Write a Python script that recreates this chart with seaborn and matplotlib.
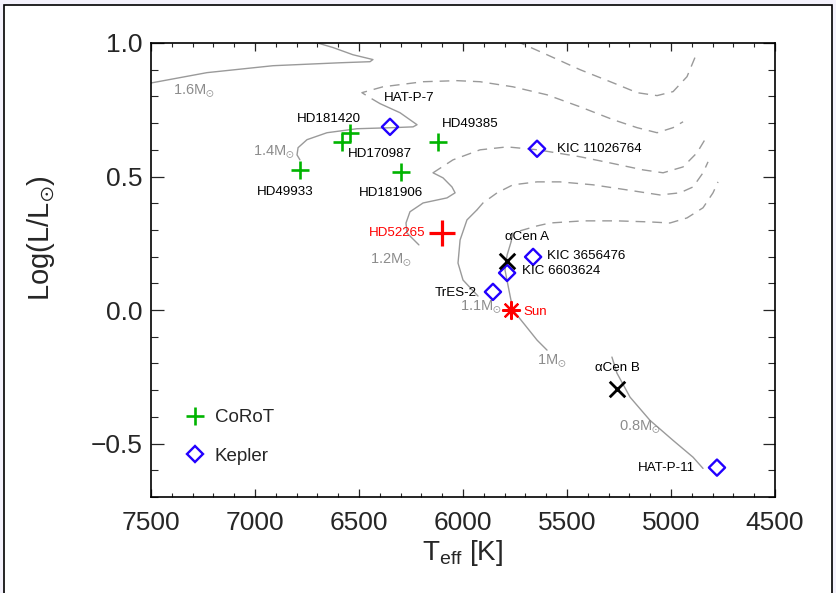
import matplotlib
matplotlib.use("Agg")
import matplotlib.pyplot as plt
import seaborn as sns
import pandas as pd
from matplotlib.patches import Rectangle
from matplotlib.lines import Line2D
from matplotlib.ticker import MultipleLocator

# ------------------------------------------------------------------ data
corot_names = ["HD49933", "HD181420", "HD170987", "HD181906", "HD49385"]
corot_teff = [6784, 6543, 6582, 6298, 6120]
corot_logl = [0.525, 0.664, 0.630, 0.517, 0.630]

hd52265_names = ["HD52265"]
hd52265_teff = [6101]
hd52265_logl = [0.289]

kepler_names = ["HAT-P-7", "KIC 11026764", "KIC 3656476", "KIC 6603624", "TrES-2", "HAT-P-11"]
kepler_teff = [6351, 5644, 5663, 5788, 5856, 4779]
kepler_logl = [0.686, 0.604, 0.199, 0.139, 0.068, -0.590]

acen_names = ["αCen A", "αCen B"]
acen_teff = [5788, 5260]
acen_logl = [0.184, -0.297]

sun_names = ["Sun"]
sun_teff = [5770]
sun_logl = [0.0]

# evolutionary tracks (solid = main sequence, dashed = post main sequence)
t16_solid_teff = [7550, 7495, 7231, 6913, 6591, 6447, 6433, 6529, 6625, 6721, 6760]
t16_solid_logl = [0.840, 0.851, 0.889, 0.915, 0.926, 0.930, 0.938, 0.956, 0.983, 1.005, 1.015]
t16_dash_teff = [5745, 5726, 5596, 5437, 5279, 5163, 5067, 4990, 4923, 4875]
t16_dash_logl = [1.010, 1.001, 0.956, 0.900, 0.851, 0.814, 0.803, 0.818, 0.874, 0.964]

t14_solid_teff = [6784, 6798, 6793, 6750, 6654, 6510, 6337, 6240, 6221, 6303, 6399]
t14_solid_logl = [0.5625, 0.581, 0.608, 0.638, 0.664, 0.679, 0.683, 0.686, 0.694, 0.739, 0.773]
t14_dash_teff = [6399, 6447, 6486, 6385, 6192, 6029, 5918, 5760, 5596, 5437, 5279, 5163, 5067, 4990, 4942]
t14_dash_logl = [0.773, 0.795, 0.814, 0.836, 0.855, 0.859, 0.855, 0.836, 0.806, 0.761, 0.713, 0.683, 0.664, 0.683, 0.705]

t12_solid_teff = [6212, 6270, 6274, 6255, 6192, 6077, 6038, 6053, 6096, 6144]
t12_solid_logl = [0.244, 0.289, 0.326, 0.368, 0.401, 0.420, 0.439, 0.461, 0.495, 0.514]
t12_dash_teff = [6144, 6048, 5918, 5788, 5640, 5437, 5293, 5135, 5038, 4942, 4875, 4837]
t12_dash_logl = [0.514, 0.5625, 0.600, 0.611, 0.600, 0.574, 0.551, 0.525, 0.514, 0.536, 0.589, 0.638]

t11_solid_teff = [5928, 6000, 6024, 6014, 5981, 5933]
t11_solid_logl = [0.0525, 0.1125, 0.176, 0.2625, 0.3375, 0.375]
t11_dash_teff = [5933, 5904, 5836, 5760, 5644, 5534, 5375, 5212, 5053, 4957, 4894, 4846, 4822]
t11_dash_logl = [0.375, 0.401, 0.439, 0.469, 0.480, 0.480, 0.469, 0.450, 0.431, 0.439, 0.461, 0.514, 0.555]

t10_solid_teff = [5596, 5644, 5702, 5760, 5784, 5798, 5788, 5769]
t10_solid_logl = [-0.150, -0.1125, -0.056, 0.0, 0.094, 0.150, 0.206, 0.255]
t10_dash_teff = [5769, 5760, 5644, 5582, 5423, 5260, 5101, 5005, 4923, 4846, 4798, 4774]
t10_dash_logl = [0.255, 0.289, 0.315, 0.326, 0.334, 0.334, 0.330, 0.326, 0.345, 0.383, 0.439, 0.480]

t08_solid_teff = [4846, 4894, 4990, 5101, 5197, 5260, 5284]
t08_solid_logl = [-0.593, -0.551, -0.488, -0.413, -0.326, -0.236, -0.176]

mass_labels = ["1.6M$_{\\odot}$", "1.4M$_{\\odot}$", "1.2M$_{\\odot}$",
               "1.1M$_{\\odot}$", "1M$_{\\odot}$", "0.8M$_{\\odot}$"]
mass_label_teff = [7394, 7010, 6447, 6014, 5644, 5250]
mass_label_logl = [0.8175, 0.5925, 0.1875, 0.011, -0.191, -0.439]

# ------------------------------------------------------------------ style
sns.set_style("ticks")
plt.rcParams["font.family"] = ["Liberation Sans", "DejaVu Sans"]
plt.rcParams["mathtext.fontset"] = "custom"
plt.rcParams["mathtext.rm"] = "Liberation Sans"
plt.rcParams["mathtext.it"] = "Liberation Sans:italic"
plt.rcParams["mathtext.bf"] = "Liberation Sans:bold"
plt.rcParams["mathtext.fallback"] = "stixsans"

GREEN = "#00b400"
BLUE = "#2200ff"
RED = "#ff0000"
TRACK = "#9a9a9a"
MLABEL = "#8c8c8c"

W, H = 836, 593
fig = plt.figure(figsize=(W / 100, H / 100), dpi=100, facecolor="#f4f2fc")
fig.patches.append(Rectangle((4 / W, -0.05), (832 - 4) / W, 1 - 5 / H + 0.05,
                             transform=fig.transFigure, facecolor="white",
                             edgecolor="black", lw=1.2, zorder=-10))
ax = fig.add_axes([151 / W, 1 - 497 / H, (775 - 151) / W, (497 - 43) / H])

# ------------------------------------------------------------------ tracks
solid_tracks = [(t16_solid_teff, t16_solid_logl), (t14_solid_teff, t14_solid_logl),
                (t12_solid_teff, t12_solid_logl), (t11_solid_teff, t11_solid_logl),
                (t10_solid_teff, t10_solid_logl), (t08_solid_teff, t08_solid_logl)]
dash_tracks = [(t16_dash_teff, t16_dash_logl), (t14_dash_teff, t14_dash_logl),
               (t12_dash_teff, t12_dash_logl), (t11_dash_teff, t11_dash_logl),
               (t10_dash_teff, t10_dash_logl)]
for tx, ty in solid_tracks:
    sns.lineplot(x=tx, y=ty, sort=False, estimator=None, color=TRACK, lw=1.0, ax=ax, zorder=2)
for tx, ty in dash_tracks:
    sns.lineplot(x=tx, y=ty, sort=False, estimator=None, color=TRACK, lw=1.0,
                 linestyle=(0, (7, 5)), ax=ax, zorder=2)

for lab, tx, ty in zip(mass_labels, mass_label_teff, mass_label_logl):
    ax.text(tx, ty, lab, color=MLABEL, fontsize=10.5, ha="left", va="center", zorder=3)

# ------------------------------------------------------------------ stars
sns.scatterplot(x=corot_teff, y=corot_logl, marker="+", s=170, color=GREEN,
                linewidth=1.9, ax=ax, zorder=5)
sns.scatterplot(x=hd52265_teff, y=hd52265_logl, marker="+", s=330, color=RED,
                linewidth=2.3, ax=ax, zorder=5)
sns.scatterplot(x=kepler_teff, y=kepler_logl, marker="D", s=68, facecolor="none",
                edgecolor=BLUE, linewidth=1.7, ax=ax, zorder=5)
sns.scatterplot(x=acen_teff, y=acen_logl, marker="x", s=125, color="black",
                linewidth=2.0, ax=ax, zorder=5)
sns.scatterplot(x=sun_teff, y=sun_logl, marker=(8, 2, 0), s=150, color=RED,
                linewidth=1.6, ax=ax, zorder=5)

# star labels: offsets in pixels (dx, dy), alignment
label_offsets = {
    "HD49933": (-15, -22, "center"), "HD181420": (-21, 14, "center"),
    "HD170987": (38, -12, "center"), "HD181906": (-10, -21, "center"),
    "HD49385": (32, 18, "center"), "HD52265": (-16, 0, "right"),
    "HAT-P-7": (19, 29, "center"), "KIC 11026764": (20, 0, "left"),
    "KIC 3656476": (14, 1, "left"), "KIC 6603624": (15, 2, "left"),
    "TrES-2": (-16, -1, "right"), "HAT-P-11": (-22, 0, "right"),
    "αCen A": (20, 24, "center"), "αCen B": (1, 21, "center"),
    "Sun": (13, -2, "left"),
}
groups = [(corot_names, corot_teff, corot_logl, "black"),
          (hd52265_names, hd52265_teff, hd52265_logl, RED),
          (kepler_names, kepler_teff, kepler_logl, "black"),
          (acen_names, acen_teff, acen_logl, "black"),
          (sun_names, sun_teff, sun_logl, RED)]
for names, tx, ty, col in groups:
    for n, x, y in zip(names, tx, ty):
        dx, dy, ha = label_offsets[n]
        ax.annotate(n, (x, y), xytext=(dx, dy), textcoords="offset pixels",
                    ha=ha, va="center", fontsize=9.6, color=col, zorder=6)

# ------------------------------------------------------------------ axes
ax.set_xlim(7500, 4500)
ax.set_ylim(-0.7, 1.0)
ax.xaxis.set_major_locator(MultipleLocator(500))
ax.xaxis.set_minor_locator(MultipleLocator(100))
ax.yaxis.set_major_locator(MultipleLocator(0.5))
ax.yaxis.set_minor_locator(MultipleLocator(0.1))
ax.set_xticks([7500, 7000, 6500, 6000, 5500, 5000, 4500])
ax.set_xticklabels(["7500", "7000", "6500", "6000", "5500", "5000", "4500"])
ax.set_yticks([-0.5, 0.0, 0.5, 1.0])
ax.set_yticklabels(["\u22120.5", "0.0", "0.5", "1.0"])
for s in ax.spines.values():
    s.set_visible(True)
    s.set_linewidth(1.2)
    s.set_color("black")
ax.tick_params(axis="x", which="major", direction="in", top=True, bottom=True,
               length=5.5, width=0.9, labelsize=19, pad=10)
ax.tick_params(axis="x", which="minor", direction="in", top=True, bottom=True,
               length=2.7, width=0.8)
ax.tick_params(axis="y", which="major", direction="in", left=True, right=True,
               length=9, width=0.9, labelsize=19, pad=6)
ax.tick_params(axis="y", which="minor", direction="in", left=True, right=True,
               length=4.7, width=0.8)

ax.set_xlabel("T$_{\\rm eff}$ [K]", fontsize=20, labelpad=2)
ax.set_ylabel("Log(L/L$_{\\odot}$)", fontsize=21)
ax.yaxis.set_label_coords(-0.15, 0.57)

handles = [Line2D([], [], marker="+", color=GREEN, ls="", ms=13, mew=1.9),
           Line2D([], [], marker="D", markerfacecolor="none", markeredgecolor=BLUE,
                  ls="", ms=8.5, mew=1.7)]
ax.legend(handles, ["CoRoT", "Kepler"], loc="upper left",
          bbox_to_anchor=(184 / W, 1 - 409 / H), bbox_transform=fig.transFigure,
          frameon=False, fontsize=13.5, handlelength=1.2, handletextpad=0.45,
          borderpad=0, borderaxespad=0, labelspacing=1.15)

fig.savefig("out.png", dpi=100, facecolor=fig.get_facecolor())
